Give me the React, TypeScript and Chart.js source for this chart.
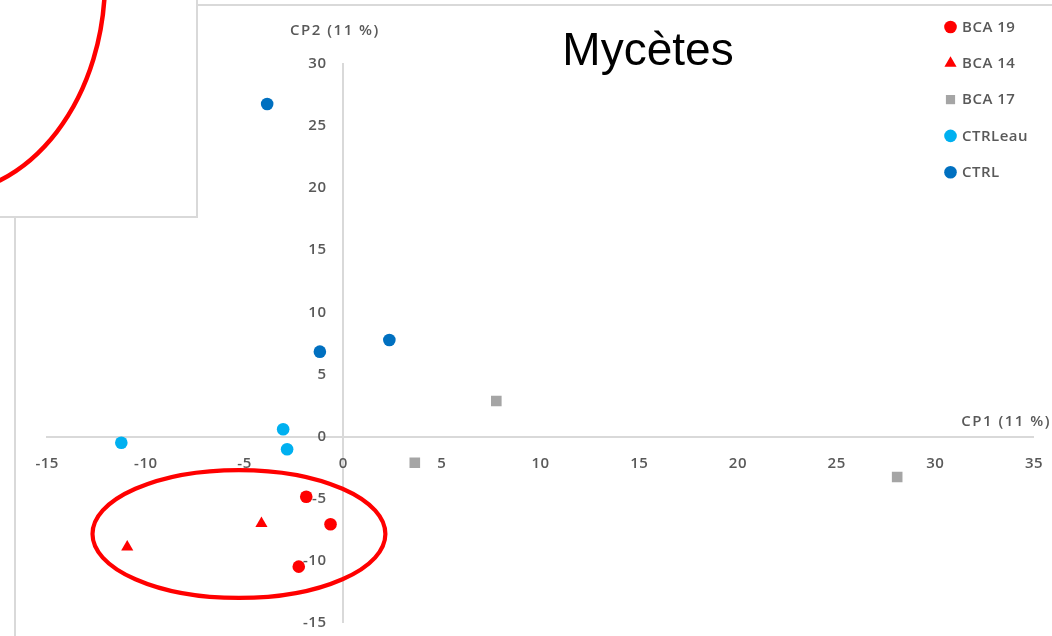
import { useEffect, useRef } from 'react';
import { Chart, registerables } from 'chart.js';

Chart.register(...registerables);

// Principal component scores (CP1, CP2) for each treatment
const bca19X = [-1.86, -0.63, -2.24];
const bca19Y = [-4.85, -7.07, -10.48];
const bca14X = [-4.13, -10.93];
const bca14Y = [-7.0, -8.9];
const bca17X = [7.77, 3.64, 28.08];
const bca17Y = [2.86, -2.11, -3.26];
const ctrlEauX = [-11.23, -3.03, -2.83];
const ctrlEauY = [-0.5, 0.58, -1.03];
const ctrlX = [-3.84, -1.17, 2.35];
const ctrlY = [26.77, 6.83, 7.77];

const seriesLabels = ['BCA 19', 'BCA 14', 'BCA 17', 'CTRLeau', 'CTRL'];
const seriesX = [bca19X, bca14X, bca17X, ctrlEauX, ctrlX];
const seriesY = [bca19Y, bca14Y, bca17Y, ctrlEauY, ctrlY];
const seriesColors = ['#ff0000', '#ff0000', '#a5a5a5', '#00b0f0', '#0070c0'];
const seriesShapes = ['circle', 'triangle', 'rect', 'circle', 'circle'];

const xRange = [-15, 35];
const yRange = [-15, 30];
const tickStep = 5;

const chartTitle = 'Mycètes';
const xAxisTitle = 'CP1 (11 %)';
const yAxisTitle = 'CP2 (11 %)';

// Group circled in red: centre and half-axes in CP units
const groupCenter = [-5.27, -7.85];
const groupRadii = [7.42, 5.15];

const W = 1052;
const H = 636;
const TEXT = '#595959';
const LINE = '#d9d9d9';
const FONT = "'Open Sans', sans-serif";
const LABEL_FONT = `600 15px ${FONT}`;

function markerRadius(shape: string) {
  if (shape === 'triangle') return 7;
  if (shape === 'rect') return 7.5;
  return 6.3;
}

function drawMarker(ctx: CanvasRenderingContext2D, shape: string, x: number, y: number, r: number, color: string) {
  ctx.fillStyle = color;
  ctx.beginPath();
  if (shape === 'triangle') {
    ctx.moveTo(x, y - r);
    ctx.lineTo(x + r * 0.866, y + r / 2);
    ctx.lineTo(x - r * 0.866, y + r / 2);
    ctx.closePath();
  } else if (shape === 'rect') {
    const s = r * Math.SQRT1_2;
    ctx.rect(x - s, y - s, 2 * s, 2 * s);
  } else {
    ctx.arc(x, y, r, 0, Math.PI * 2);
  }
  ctx.fill();
}

const decorPlugin = {
  id: 'decor',
  beforeDraw(chart: any) {
    const ctx = chart.ctx as any;
    ctx.save();
    ctx.fillStyle = '#ffffff';
    ctx.fillRect(0, 0, W, H);
    // outer frame of the chart box
    ctx.strokeStyle = LINE;
    ctx.lineWidth = 2;
    ctx.beginPath();
    ctx.moveTo(15, H);
    ctx.lineTo(15, 5);
    ctx.lineTo(W, 5);
    ctx.stroke();
    ctx.restore();
  },
  afterDatasetsDraw(chart: any) {
    const ctx = chart.ctx as CanvasRenderingContext2D;
    const xs = chart.scales.x;
    const ys = chart.scales.y;
    const cx = xs.getPixelForValue(groupCenter[0]);
    const cy = ys.getPixelForValue(groupCenter[1]);
    const rx = Math.abs(xs.getPixelForValue(groupCenter[0] + groupRadii[0]) - cx);
    const ry = Math.abs(ys.getPixelForValue(groupCenter[1] + groupRadii[1]) - cy);
    ctx.save();
    ctx.strokeStyle = '#ff0000';
    ctx.lineWidth = 4.2;
    ctx.beginPath();
    ctx.ellipse(cx, cy, rx, ry, 0, 0, Math.PI * 2);
    ctx.stroke();
    ctx.restore();
  },
  afterDraw(chart: any) {
    const ctx = chart.ctx as any;
    const xs = chart.scales.x;
    const ys = chart.scales.y;
    const axisX = xs.getPixelForValue(0);
    const axisY = ys.getPixelForValue(0);
    ctx.save();

    // tick labels next to the axes crossing at the origin
    ctx.fillStyle = TEXT;
    ctx.font = LABEL_FONT;
    ctx.letterSpacing = '0.5px';
    ctx.textBaseline = 'middle';
    ctx.textAlign = 'center';
    xs.ticks.forEach((t: any) => {
      ctx.fillText(String(t.value), xs.getPixelForValue(t.value) + 0.25, axisY + 27);
    });
    ctx.textAlign = 'right';
    ys.ticks.forEach((t: any) => {
      ctx.fillText(String(t.value), axisX - 16.5, ys.getPixelForValue(t.value));
    });

    // title
    ctx.letterSpacing = '0px';
    ctx.fillStyle = '#000000';
    ctx.font = "46px 'Liberation Sans', Arial, sans-serif";
    ctx.textAlign = 'center';
    ctx.textBaseline = 'alphabetic';
    ctx.fillText(chartTitle, 648, 65);

    // axis titles
    ctx.fillStyle = TEXT;
    ctx.font = LABEL_FONT;
    ctx.letterSpacing = '1.5px';
    ctx.textBaseline = 'middle';
    ctx.textAlign = 'center';
    ctx.fillText(yAxisTitle, axisX - 8, ys.top - 33);
    ctx.textAlign = 'right';
    ctx.fillText(xAxisTitle, W - 1, axisY - 14.5);

    // legend
    ctx.letterSpacing = '0.5px';
    chart.data.datasets.forEach((ds: any, i: number) => {
      const y = 27 + i * 36.3;
      const shape = ds.pointStyle;
      const r = shape === 'rect' ? 6.5 : markerRadius(shape);
      drawMarker(ctx, shape, 950.5, y, r, ds.backgroundColor);
      ctx.fillStyle = TEXT;
      ctx.textAlign = 'left';
      ctx.fillText(ds.label, 962, y + 0.5);
    });
    ctx.letterSpacing = '0px';

    // inset box in the top-left corner
    ctx.fillStyle = '#ffffff';
    ctx.fillRect(0, 0, 197, 217);
    ctx.strokeStyle = LINE;
    ctx.lineWidth = 2;
    ctx.beginPath();
    ctx.moveTo(197, 0);
    ctx.lineTo(197, 217);
    ctx.lineTo(0, 217);
    ctx.stroke();
    ctx.beginPath();
    ctx.rect(0, 0, 196, 216);
    ctx.clip();
    ctx.strokeStyle = '#ff0000';
    ctx.lineWidth = 4.5;
    ctx.beginPath();
    ctx.ellipse(-60, -20, 165, 215, 0, 0, Math.PI * 2);
    ctx.stroke();

    ctx.restore();
  },
};

export default function App() {
  const ref = useRef<HTMLCanvasElement | null>(null);

  useEffect(() => {
    if (!ref.current) return;
    const datasets = seriesLabels.map((label, i) => ({
      label,
      data: seriesX[i].map((x, j) => ({ x, y: seriesY[i][j] })),
      pointStyle: seriesShapes[i],
      pointRadius: markerRadius(seriesShapes[i]),
      backgroundColor: seriesColors[i],
      borderColor: seriesColors[i],
      pointBorderWidth: 0,
    }));

    const chart = new Chart(ref.current, {
      type: 'scatter',
      data: { datasets },
      plugins: [decorPlugin],
      options: {
        responsive: false,
        animation: false,
        devicePixelRatio: 1,
        layout: { autoPadding: false, padding: { left: 46.9, right: 18.25, top: 63.9, bottom: 13.2 } },
        plugins: {
          legend: { display: false },
          title: { display: false },
          tooltip: { enabled: false },
        },
        scales: {
          x: {
            type: 'linear',
            position: { y: 0 },
            min: xRange[0],
            max: xRange[1],
            ticks: { stepSize: tickStep, display: false },
            grid: { display: false, drawTicks: false },
            border: { display: true, color: LINE, width: 2 },
          },
          y: {
            type: 'linear',
            position: { x: 0 },
            min: yRange[0],
            max: yRange[1],
            ticks: { stepSize: tickStep, display: false },
            grid: { display: false, drawTicks: false },
            border: { display: true, color: LINE, width: 2 },
          },
        },
      } as any,
    });
    return () => chart.destroy();
  }, []);

  return (
    <div style={{ position: 'fixed', left: 0, top: 0, width: W, height: H, background: '#fff' }}>
      <canvas ref={ref} width={W} height={H} style={{ display: 'block' }} />
    </div>
  );
}
